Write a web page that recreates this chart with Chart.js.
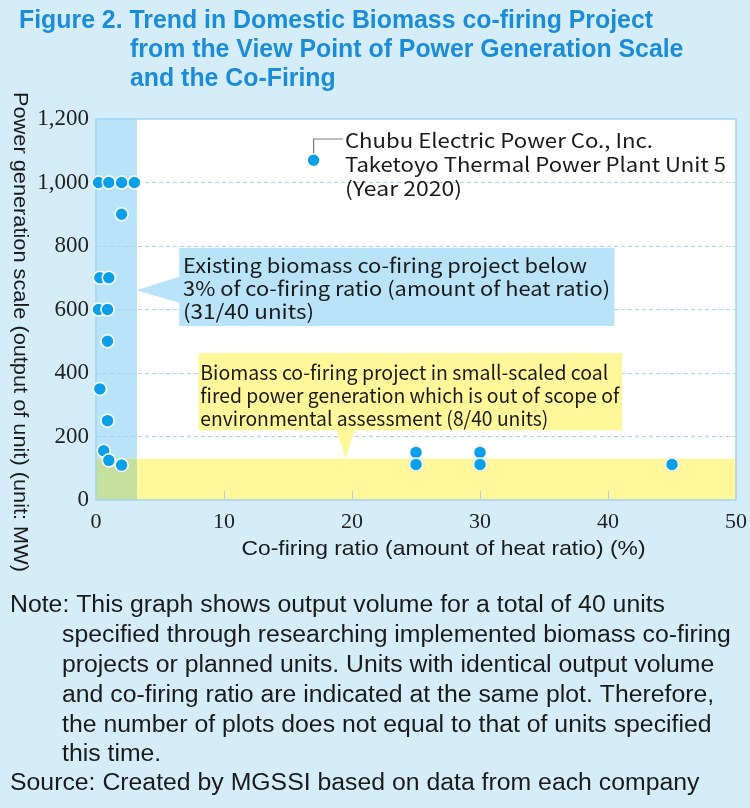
<!DOCTYPE html>
<html><head><meta charset="utf-8">
<script src="https://cdn.jsdelivr.net/npm/chart.js@4.4.1/dist/chart.umd.min.js"></script>
<style>
html,body{margin:0;padding:0;background:#d5edf9;}
#wrap{position:relative;width:750px;height:808px;}
canvas{display:block;}
</style></head><body>
<div id="wrap"><canvas id="c" width="750" height="808"></canvas></div>
<script>
// ---------- data ----------
const xAxisMin = 0, xAxisMax = 50, xStep = 10;
const yAxisMin = 0, yAxisMax = 1200, yStep = 200;

// existing projects below 3% co-firing ratio
const existingRatio  = [0.2, 1.0, 2.0, 3.0, 2.0, 0.3, 1.0, 0.2, 0.9, 0.9, 0.3, 0.9, 0.6, 1.0, 2.0];
const existingOutput = [1000,1000,1000,1000, 900, 700, 700, 600, 600, 500, 350, 250, 155, 125, 110];

// small-scaled coal projects (higher ratio)
const smallRatio  = [25, 25, 30, 30, 45];
const smallOutput = [150, 112, 150, 112, 112];

// Chubu Electric Taketoyo Unit 5
const chubuRatio  = [17];
const chubuOutput = [1070];

// shaded ranges (data units)
const blueBandRatio    = [0, 3.2];
const yellowBandOutput = [0, 130];

const titleLines = [
  "Figure 2. Trend in Domestic Biomass co-firing Project",
  "from the View Point of Power Generation Scale",
  "and the Co-Firing"
];
const xTitle = "Co-firing ratio (amount of heat ratio) (%)";
const yTitle = "Power generation scale (output of unit) (unit: MW)";
const chubuLabel = ["Chubu Electric Power Co., Inc.", "Taketoyo Thermal Power Plant Unit 5", "(Year 2020)"];
const blueNote = ["Existing biomass co-firing project below", "3% of co-firing ratio (amount of heat ratio)", "(31/40 units)"];
const yellowNote = ["Biomass co-firing project in small-scaled coal", "fired power generation which is out of scope of", "environmental assessment (8/40 units)"];
const noteLines = [
  "Note: This graph shows output volume for a total of 40 units",
  "specified through researching implemented biomass co-firing",
  "projects or planned units. Units with identical output volume",
  "and co-firing ratio are indicated at the same plot. Therefore,",
  "the number of plots does not equal to that of units specified",
  "this time."
];
const sourceLine = "Source: Created by MGSSI based on data from each company";

// ---------- layout (text widths in px, not data) ----------
const chubuWidths  = [308, 381, 117];
const blueWidths   = [404, 427, 131];
const yellowWidths = [408, 419, 348];

// ---------- helpers ----------
const toPts = (xs, ys) => xs.map((v, i) => ({x: v, y: ys[i]}));
function drawScaled(ctx, text, x, y, sx) {
  ctx.save(); ctx.translate(x, y); ctx.scale(sx, 1); ctx.fillText(text, 0, 0); ctx.restore();
}
function drawFit(ctx, text, x, y, w) {
  drawScaled(ctx, text, x, y, w / ctx.measureText(text).width);
}
function scaleFor(ctx, text, width) { return width / ctx.measureText(text).width; }

const COLORS = {
  page: '#d5edf9', blue: '#b9e3f8', yellow: '#fff799', overlap: '#c4df9e',
  point: '#0aa0e9', grid: '#a3d6f3', frame: '#9fd6f3', title: '#1b8dd8', text: '#1a1a1a'
};

const decor = {
  id: 'decor',
  beforeDraw(chart) {
    const {ctx, chartArea: a, scales: {x, y}} = chart;
    ctx.save();
    ctx.fillStyle = COLORS.page; ctx.fillRect(0, 0, chart.width, chart.height);
    ctx.fillStyle = '#ffffff'; ctx.fillRect(a.left, a.top, a.width, a.height);
    const bx0 = x.getPixelForValue(blueBandRatio[0]), bx1 = x.getPixelForValue(blueBandRatio[1]);
    const yt = y.getPixelForValue(yellowBandOutput[1]), yb = y.getPixelForValue(yellowBandOutput[0]);
    ctx.fillStyle = COLORS.blue; ctx.fillRect(bx0, a.top, bx1 - bx0, a.bottom - a.top);
    ctx.fillStyle = COLORS.yellow; ctx.fillRect(a.left, yt, a.right - a.left, yb - yt);
    ctx.fillStyle = COLORS.overlap; ctx.fillRect(bx0, yt, bx1 - bx0, yb - yt);
    ctx.restore();
  },
  beforeDatasetsDraw(chart) {
    const {ctx, chartArea: a, scales: {x, y}} = chart;
    const X = v => x.getPixelForValue(v), Y = v => y.getPixelForValue(v);
    ctx.save();
    // frame
    ctx.strokeStyle = COLORS.frame; ctx.lineWidth = 1.5;
    ctx.strokeRect(a.left, a.top, a.width, a.height);
    // inner x tick marks
    ctx.strokeStyle = '#a9d2ea'; ctx.lineWidth = 1;
    x.ticks.forEach(t => {
      if (t.value === xAxisMin || t.value === xAxisMax) return;
      const px = Math.round(X(t.value)) + 0.5;
      ctx.beginPath(); ctx.moveTo(px, a.bottom); ctx.lineTo(px, a.bottom - 9); ctx.stroke();
    });
    // blue callout
    ctx.fillStyle = COLORS.blue;
    ctx.beginPath();
    ctx.moveTo(X(6.5), Y(794)); ctx.lineTo(X(40.5), Y(794)); ctx.lineTo(X(40.5), Y(548));
    ctx.lineTo(X(6.5), Y(548)); ctx.lineTo(X(6.5), Y(621)); ctx.lineTo(X(blueBandRatio[1]) - 1, Y(661));
    ctx.lineTo(X(6.5), Y(703)); ctx.closePath(); ctx.fill();
    // yellow callout
    ctx.fillStyle = COLORS.yellow;
    ctx.beginPath();
    ctx.moveTo(X(8.0), Y(463)); ctx.lineTo(X(41.1), Y(463)); ctx.lineTo(X(41.1), Y(220));
    ctx.lineTo(X(20.2), Y(220)); ctx.lineTo(X(19.5), Y(yellowBandOutput[1])); ctx.lineTo(X(18.8), Y(220));
    ctx.lineTo(X(8.0), Y(220)); ctx.closePath(); ctx.fill();
    // leader line for Chubu
    ctx.strokeStyle = '#7a7a7a'; ctx.lineWidth = 1.2;
    ctx.beginPath();
    ctx.moveTo(X(chubuRatio[0]), Y(chubuOutput[0])); ctx.lineTo(X(chubuRatio[0]), Y(1137)); ctx.lineTo(X(19.3), Y(1137));
    ctx.stroke();
    ctx.restore();
  },
  afterDraw(chart) {
    const {ctx, scales: {x, y}} = chart;
    const X = v => x.getPixelForValue(v);
    ctx.save();
    ctx.textBaseline = 'middle'; ctx.textAlign = 'left';
    // title
    ctx.fillStyle = COLORS.title;
    ctx.font = 'bold 25px "Liberation Sans", Arial, sans-serif';
    let sx = scaleFor(ctx, titleLines[0], 634);
    drawScaled(ctx, titleLines[0], 19, 21, sx);
    drawScaled(ctx, titleLines[1], 130, 50, sx);
    drawScaled(ctx, titleLines[2], 130, 79, sx);
    // annotation texts
    ctx.fillStyle = COLORS.text;
    ctx.font = '20px "Noto Sans CJK JP", "DejaVu Sans", sans-serif';
    blueNote.forEach((t, i) => drawFit(ctx, t, X(6.8), 265 + i * 23.3, blueWidths[i]));
    yellowNote.forEach((t, i) => drawFit(ctx, t, X(8.15), 372 + i * 23, yellowWidths[i]));
    chubuLabel.forEach((t, i) => drawFit(ctx, t, X(19.45), 140 + i * 24, chubuWidths[i]));
    // axis titles
    ctx.font = '21px "Liberation Sans", Arial, sans-serif';
    ctx.textAlign = 'center';
    sx = scaleFor(ctx, xTitle, 404);
    drawScaled(ctx, xTitle, (241 + 646) / 2, 549, sx);
    ctx.save();
    ctx.translate(20, 332); ctx.rotate(Math.PI / 2);
    const sy = scaleFor(ctx, yTitle, 480);
    drawScaled(ctx, yTitle, 0, 0, sy);
    ctx.restore();
    // notes
    ctx.textAlign = 'left';
    ctx.font = '23px "Liberation Sans", Arial, sans-serif';
    sx = scaleFor(ctx, noteLines[0], 655);
    noteLines.forEach((t, i) => drawScaled(ctx, t, i === 0 ? 10 : 62, 606 + i * 29.8, sx));
    drawScaled(ctx, sourceLine, 10, 784, sx);
    ctx.restore();
  }
};

new Chart(document.getElementById('c'), {
  type: 'scatter',
  data: {
    datasets: [
      {label: 'Existing (<3%)', data: toPts(existingRatio, existingOutput)},
      {label: 'Small-scaled', data: toPts(smallRatio, smallOutput)},
      {label: 'Chubu Taketoyo 5', data: toPts(chubuRatio, chubuOutput)}
    ].map(d => Object.assign(d, {
      backgroundColor: COLORS.point, borderColor: '#ffffff', borderWidth: 1.5,
      pointRadius: 6.5, pointHoverRadius: 6.5, clip: false
    }))
  },
  options: {
    responsive: false, animation: false, devicePixelRatio: 1,
    layout: {padding: {top: 119, right: 14, left: 0, bottom: 0}},
    plugins: {legend: {display: false}, tooltip: {enabled: false}},
    scales: {
      x: {
        type: 'linear', min: xAxisMin, max: xAxisMax,
        grid: {display: false},
        border: {display: false},
        ticks: {stepSize: xStep, padding: 1, color: '#222',
          font: {family: '"Liberation Serif", "DejaVu Serif", serif', size: 22}},
        afterFit(s) { s.height = 308; }
      },
      y: {
        type: 'linear', min: yAxisMin, max: yAxisMax,
        grid: {
          drawTicks: false, lineWidth: 1,
          color: c => (c.tick && (c.tick.value === yAxisMin || c.tick.value === yAxisMax)) ? 'rgba(0,0,0,0)' : COLORS.grid
        },
        border: {display: false, dash: [4, 3]},
        ticks: {stepSize: yStep, padding: 7, color: '#222',
          font: {family: '"Liberation Serif", "DejaVu Serif", serif', size: 23},
          callback: v => Number(v).toLocaleString('en-US')},
        afterFit(s) { s.width = 96; }
      }
    }
  },
  plugins: [decor]
});
</script>
</body></html>
